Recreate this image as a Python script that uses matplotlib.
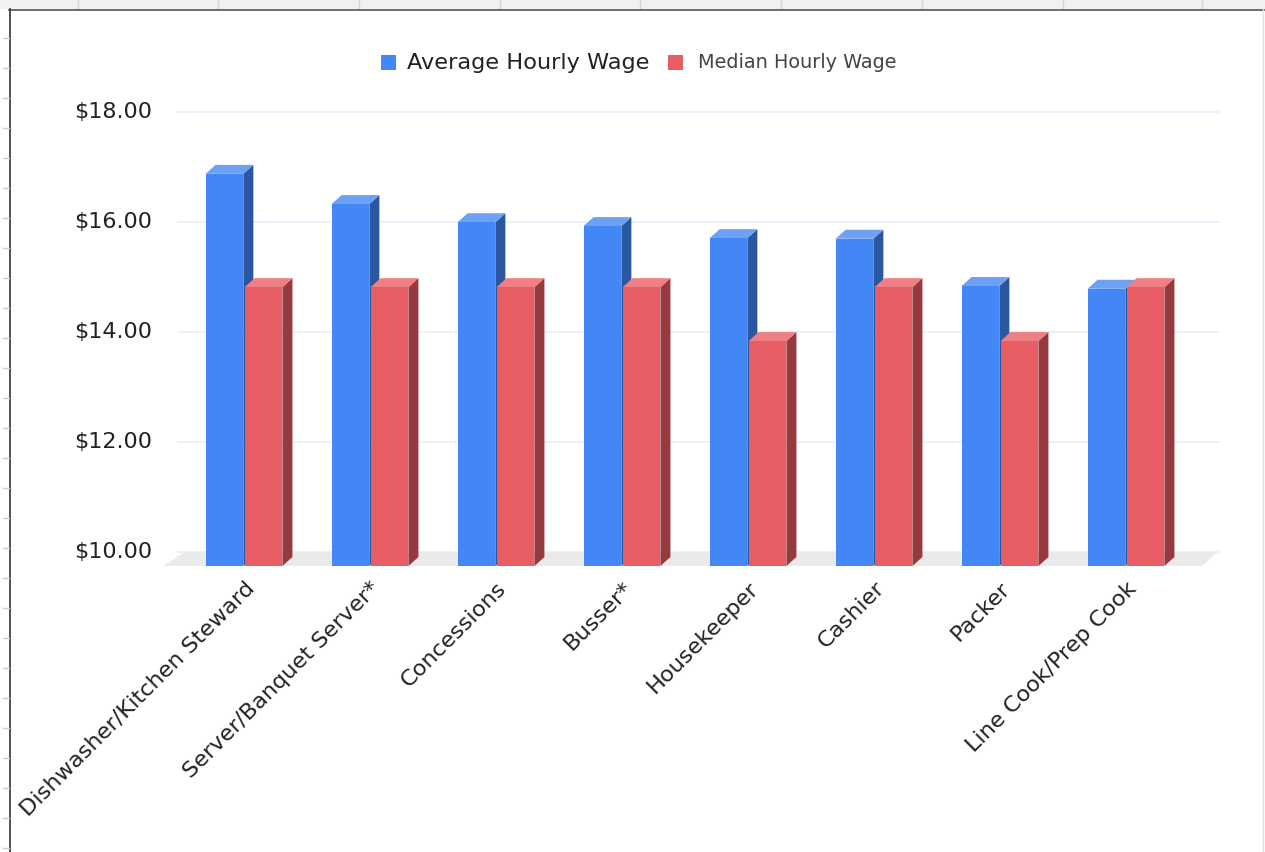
import matplotlib
matplotlib.use('Agg')
import matplotlib.pyplot as plt
from matplotlib.patches import Polygon, Rectangle
from matplotlib.lines import Line2D

jobs = ['Dishwasher/Kitchen Steward', 'Server/Banquet Server*', 'Concessions', 'Busser*',
        'Housekeeper', 'Cashier', 'Packer', 'Line Cook/Prep Cook']
avg_wage = [17.13, 16.58, 16.25, 16.18, 15.96, 15.95, 15.09, 15.04]
median_wage = [15.07, 15.07, 15.07, 15.07, 14.09, 15.07, 14.09, 15.07]
y_ticks = [10, 12, 14, 16, 18]
series_names = ['Average Hourly Wage', 'Median Hourly Wage']

W, H = 1265, 852
plt.rcParams['font.family'] = ['DejaVu Sans']

fig = plt.figure(figsize=(W / 100, H / 100), dpi=100)
fig.patch.set_facecolor('white')

# axes = front plane of the 3d box, $10 sits on the front edge of the floor
ax_left, ax_right, ax_bottom, ax_top = 163, 1202, 566, 100
ax = fig.add_axes([ax_left / W, 1 - ax_bottom / H, (ax_right - ax_left) / W, (ax_bottom - ax_top) / H])
px_per_cat = 126.0
px_per_dollar = 55.0
ax.set_xlim((ax_left - 244) / px_per_cat, (ax_right - 244) / px_per_cat)
ax.set_ylim(10, 10 + (ax_bottom - ax_top) / px_per_dollar)
ax.axis('off')

# depth of the floor / grid plane and of the columns, in data units
floor_dx, floor_dy = 18 / px_per_cat, 14 / px_per_dollar
bar_dx, bar_dy = 10 / px_per_cat, 9 / px_per_dollar

blue = {'front': '#4287f5', 'top': '#6ea1f4', 'side': '#2b56a0'}
red = {'front': '#e85d63', 'top': '#ee8084', 'side': '#973a3f'}

# grid lines on the back plane
x0, x1 = ax.get_xlim()
for v in y_ticks:
    ax.plot([(178 - 244) / px_per_cat, (1218 - 244) / px_per_cat], [v + floor_dy, v + floor_dy],
            color='#e6f1fc', lw=1.3, zorder=1, clip_on=False)
    ax.text((152 - 244) / px_per_cat, v + floor_dy, '${:.2f}'.format(v), ha='right', va='center',
            fontsize=16, color='#222222', clip_on=False)

# floor
floor = Polygon([(x0, 10), (x1, 10), (x1 + 15 / px_per_cat, 10 + floor_dy),
                 (x0 + 22 / px_per_cat, 10 + floor_dy)], closed=True,
                facecolor='#eaeaea', edgecolor='none', zorder=2, clip_on=False)
ax.add_patch(floor)


def draw_column(xl, width, value, colors, z):
    xr = xl + width
    top = Polygon([(xl, value), (xr, value), (xr + bar_dx, value + bar_dy), (xl + bar_dx, value + bar_dy)],
                  closed=True, facecolor=colors['top'], edgecolor='none', zorder=z, clip_on=False)
    side = Polygon([(xr, 10), (xr, value), (xr + bar_dx, value + bar_dy), (xr + bar_dx, 10 + bar_dy)],
                   closed=True, facecolor=colors['side'], edgecolor='none', zorder=z, clip_on=False)
    ax.add_patch(side)
    ax.add_patch(top)
    ax.bar(xl, value - 10, width=width, bottom=10, align='edge', color=colors['front'],
           edgecolor='none', zorder=z + 0.1, clip_on=False)


bw = 0.30
for i in range(len(jobs)):
    draw_column(i - 0.005 - bw, bw, avg_wage[i], blue, 3 + i * 0.5)
    draw_column(i + 0.005, bw, median_wage[i], red, 3.2 + i * 0.5)

for i, name in enumerate(jobs):
    ax.text(i + 0.0, 10 - 12 / px_per_dollar, name, rotation=45, rotation_mode='anchor',
            ha='right', va='top', fontsize=16.2, color='#222222', clip_on=False)

# legend drawn by hand (first entry is larger, as in the source)
fig.add_artist(Rectangle((381 / W, 1 - 70 / H), 15 / W, 15 / H, transform=fig.transFigure,
                         facecolor=blue['front'], edgecolor='none'))
fig.text(407 / W, 1 - 63 / H, series_names[0], ha='left', va='center', fontsize=16.1, color='#222222')
fig.add_artist(Rectangle((668 / W, 1 - 70 / H), 15 / W, 15 / H, transform=fig.transFigure,
                         facecolor=red['front'], edgecolor='none'))
fig.text(698 / W, 1 - 63 / H, series_names[1], ha='left', va='center', fontsize=13.9, color='#444444')

# spreadsheet frame around the screenshot
fig.add_artist(Rectangle((0, 1 - 9 / H), 1, 9 / H, transform=fig.transFigure,
                         facecolor='#f1f1f1', edgecolor='none'))
for xs in [78, 218, 359, 500, 640, 781, 922, 1063, 1202]:
    fig.add_artist(Line2D([xs / W, xs / W], [1 - 9 / H, 1], transform=fig.transFigure, color='#d6d6d6', lw=1))
fig.add_artist(Line2D([9 / W, 1], [1 - 9.5 / H, 1 - 9.5 / H], transform=fig.transFigure, color='#555555', lw=1.2))
fig.add_artist(Line2D([9.5 / W, 9.5 / W], [0, 1 - 9 / H], transform=fig.transFigure, color='#333333', lw=1.2))
fig.add_artist(Line2D([1262.5 / W, 1262.5 / W], [0, 1 - 9 / H], transform=fig.transFigure, color='#e0e0e0', lw=1))
for yp in range(38, H, 30):
    fig.add_artist(Line2D([3 / W, 9 / W], [1 - yp / H, 1 - yp / H], transform=fig.transFigure, color='#cccccc', lw=1))

fig.savefig('out.png', dpi=100)
